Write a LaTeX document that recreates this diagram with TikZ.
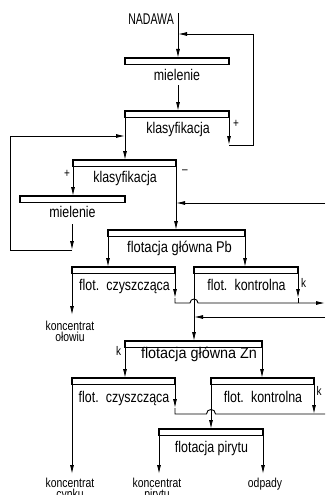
\documentclass[tikz,border=0pt]{standalone}
\usepackage{fontspec}
\setmainfont[FakeStretch=0.8]{Liberation Sans}
\usetikzlibrary{arrows.meta}
\begin{document}
\begin{tikzpicture}[x=1pt,y=-1pt,
  flow/.style={line width=0.9pt},
  arr/.style={flow,-{Latex[length=9pt,width=4pt]}},
  bar/.style={draw,line width=1.2pt,minimum height=6.5pt,inner sep=0pt,
    outer sep=0pt,anchor=north west},
  lab/.style={font=\fontsize{15.5}{17}\selectfont,anchor=base,inner sep=0pt},
  small/.style={font=\fontsize{13}{11}\selectfont,align=center,
    anchor=north,inner sep=0pt},
  sign/.style={font=\fontsize{12.5}{12.5}\selectfont,inner sep=0pt}]
\useasboundingbox (0,0) rectangle (325,495);

% process stages (bars)
\node[bar,minimum width=104pt] (b1) at (125,58) {};
\node[bar,minimum width=104pt] (b2) at (125,111) {};
\node[bar,minimum width=103pt] (b3) at (73,160) {};
\node[bar,minimum width=105pt] (b4) at (20,196) {};
\node[bar,minimum width=137pt] (b5) at (108,230) {};
\node[bar,minimum width=103pt] (b6) at (72,267) {};
\node[bar,minimum width=104pt] (b7) at (194,267) {};
\node[bar,minimum width=137pt] (b8) at (125,341) {};
\node[bar,minimum width=103pt] (b9) at (72,378) {};
\node[bar,minimum width=103pt] (b10) at (211,378) {};
\node[bar,minimum width=104pt] (b11) at (159,429) {};

% stage names
\node[lab] (t1) at (177,81) {mielenie};
\node[lab] (t2) at (178,133) {klasyfikacja};
\node[lab] (t3) at (125,182) {klasyfikacja};
\node[lab] (t4) at (72.5,217) {mielenie};
\node[lab] (t5) at (179.5,252) {\scalebox{1.04}[1]{flotacja główna Pb}};
\node[lab] (t6) at (124.5,290.5) {flot.\, czyszcząca};
\node[lab] (t7) at (246.5,290.5) {flot.\, kontrolna};
\node[lab] (t8) at (199,358) {\scalebox{1.16}[1]{flotacja główna Zn}};
\node[lab] (t9) at (124,402) {flot.\, czyszcząca};
\node[lab] (t10) at (263,402) {flot.\, kontrolna};
\node[lab] (t11) at (211.5,452) {flotacja pirytu};

% feed and products
\node[lab,anchor=base east] (feed) at (174,25) {\scalebox{0.85}[1]{NADAWA}};
\node[small] (pPb) at (70,321) {koncentrat\\ołowiu};
\node[small] (pZn) at (70,477.5) {koncentrat\\cynku};
\node[small] (pFe) at (157,477.5) {koncentrat\\pirytu};
\node[small] (pW) at (265,477.5) {odpady};

% stream signs
\node[sign] (s1) at (236,124) {+};
\node[sign] (s2) at (67,174) {+};
\node[sign] (s3) at (185,172) {–};
\node[sign] (k1) at (303.5,283) {k};
\node[sign] (k2) at (118.5,351) {k};
\node[sign] (k3) at (319,391) {k};

% free ends of streams
\coordinate (in) at (178,13);
\coordinate (m1) at (178,85);
\coordinate (c1) at (229,145);
\coordinate (c2) at (253,145);
\coordinate (c3) at (253,34);
\coordinate (m2a) at (72,224);
\coordinate (m2b) at (72,250);
\coordinate (l1) at (10,250);
\coordinate (l2) at (10,136);
\coordinate (e1) at (325,203);
\coordinate (e2) at (325,303);
\coordinate (e3) at (325,317);
\coordinate (e4) at (325,414);
\coordinate (j1) at (175,298);
\coordinate (j2) at (175,303);
\coordinate (j3) at (298,298);
\coordinate (j4) at (298,303);
\coordinate (j5) at (175,408);
\coordinate (j6) at (175,414);
\coordinate (j7) at (314,414);
\coordinate (o1) at (72,315);
\coordinate (o2) at (72,474);
\coordinate (o3) at (159,474);
\coordinate (o4) at (263,474);

% grinding and classification circuit
\draw[arr] (in) -- (in |- b1.north);
\draw[arr] (m1) -- (m1 |- b2.north);
\draw[arr] (b2.south east) -- (c1);
\draw[flow] (c1) -- (c2) -- (c3);
\draw[arr] (c3) -- (in |- c3);
\draw[arr] (b2.south west) -- (b2.south west |- b3.north);
\draw[arr] (b3.south west) -- (b3.south west |- b4.north);
\draw[arr] (m2a) -- (m2b);
\draw[flow] (m2b) -- (l1) -- (l2);
\draw[arr] (l2) -- (b2.south west |- l2);
\draw[arr] (b3.south east) -- (b3.south east |- b5.north);
\draw[arr] (e1) -- (b3.south east |- e1);

% lead flotation
\draw[arr] (b5.south west) -- (b5.south west |- b6.north);
\draw[arr] (b5.south east) -- (b5.south east |- b7.north);
\draw[arr] (b6.south west) -- (o1);
\draw[arr] (b6.south east) -- (j1);
\draw[arr] (j1) -- (j2) -- (190,303)
  .. controls (190,297.7) and (198,297.7) .. (198,303) -- (e2);
\draw[arr] (b7.south east) -- (j3);
\draw[flow] (j3) -- (j4);
\draw[arr] (e3) -- (b7.south west |- e3);
\draw[arr] (b7.south west) -- (b7.south west |- b8.north);

% zinc flotation
\draw[arr] (b8.south west) -- (b8.south west |- b9.north);
\draw[arr] (b8.south east) -- (b8.south east |- b10.north);
\draw[arr] (b9.south west) -- (o2);
\draw[arr] (b9.south east) -- (j5);
\draw[flow] (j5) -- (j6) -- (206.5,414)
  .. controls (206.5,408) and (215.5,408) .. (215.5,414) -- (e4);
\draw[arr] (b10.south east) -- (j7);
\draw[arr] (b10.south west) -- (b10.south west |- b11.north);

% pyrite flotation
\draw[arr] (b11.south west) -- (o3);
\draw[arr] (b11.south east) -- (o4);
\end{tikzpicture}
\end{document}
